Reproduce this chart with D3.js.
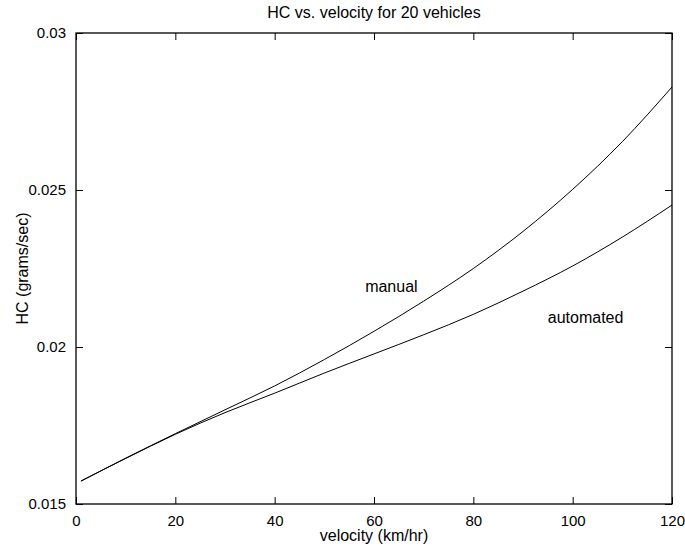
<!DOCTYPE html>
<html><head><meta charset="utf-8">
<script src="https://cdn.jsdelivr.net/npm/d3@7"></script>
<style>
body{margin:0;background:#fff;}
text{font-family:"Liberation Sans",Arial,Helvetica,sans-serif;fill:#000;}
</style></head>
<body><svg id="chart" width="685" height="546"></svg>
<script>
const velocity = [1,10,20,30,40,50,60,70,80,90,100,110,120];
const manual = [0.01573,0.01646,0.01724,0.01800,0.01876,0.01960,0.02050,0.02146,0.02250,0.02368,0.02502,0.02654,0.02828];
const automated = [0.01573,0.01645,0.01722,0.01791,0.01853,0.01917,0.01978,0.02039,0.02104,0.02178,0.02258,0.02350,0.02452];
const xTicks = [0,20,40,60,80,100,120];
const yTicks = [0.015,0.02,0.025,0.03];
const yTickLabels = ["0.015","0.02","0.025","0.03"];
const labels = [{text:"manual", v:63.5, y:0.02175},{text:"automated", v:102.6, y:0.02077}];

const L=76,R=672,T=33,B=504;
const svg=d3.select("#chart");
const x=d3.scaleLinear().domain([0,120]).range([L,R]);
const y=d3.scaleLinear().domain([0.015,0.03]).range([B,T]);

svg.append("rect").attr("x",L).attr("y",T).attr("width",R-L).attr("height",B-T)
  .attr("fill","none").attr("stroke","#000").attr("stroke-width",1.3);

const tl=7;
svg.append("g").attr("transform",`translate(0,${B})`)
  .call(d3.axisBottom(x).tickValues(xTicks).tickSizeInner(-tl).tickSizeOuter(0).tickPadding(tl+4).tickFormat(d3.format("d")));
svg.append("g").attr("transform",`translate(0,${T})`)
  .call(d3.axisTop(x).tickValues(xTicks).tickSizeInner(-tl).tickSizeOuter(0).tickFormat(""));
svg.append("g").attr("transform",`translate(${L},0)`)
  .call(d3.axisLeft(y).tickValues(yTicks).tickSizeInner(-tl).tickSizeOuter(0).tickPadding(tl+3)
  .tickFormat((d,i)=>yTickLabels[i]));
svg.append("g").attr("transform",`translate(${R},0)`)
  .call(d3.axisRight(y).tickValues(yTicks).tickSizeInner(-tl).tickSizeOuter(0).tickFormat(""));
svg.selectAll(".domain").remove();
svg.selectAll(".tick line").attr("stroke","#000");
svg.selectAll(".tick text").attr("font-size","15px").attr("font-family","Liberation Sans, Arial, sans-serif").attr("fill","#000");

const line=d3.line().x(d=>x(d[0])).y(d=>y(d[1])).curve(d3.curveMonotoneX);
[manual,automated].forEach(s=>{
  svg.append("path").datum(velocity.map((v,i)=>[v,s[i]]))
    .attr("d",line).attr("fill","none").attr("stroke","#000").attr("stroke-width",1);
});

svg.append("text").attr("x",(L+R)/2).attr("y",18).attr("text-anchor","middle").attr("font-size","16px")
  .text("HC vs. velocity for 20 vehicles");
svg.append("text").attr("x",(L+R)/2).attr("y",541).attr("text-anchor","middle").attr("font-size","16px")
  .text("velocity (km/hr)");
svg.append("text").attr("transform",`translate(28,${(T+B)/2}) rotate(-90)`).attr("text-anchor","middle").attr("font-size","16px")
  .text("HC (grams/sec)");
labels.forEach(l=>{
  svg.append("text").attr("x",x(l.v)).attr("y",y(l.y)).attr("text-anchor","middle").attr("font-size","16px").text(l.text);
});
</script></body></html>
